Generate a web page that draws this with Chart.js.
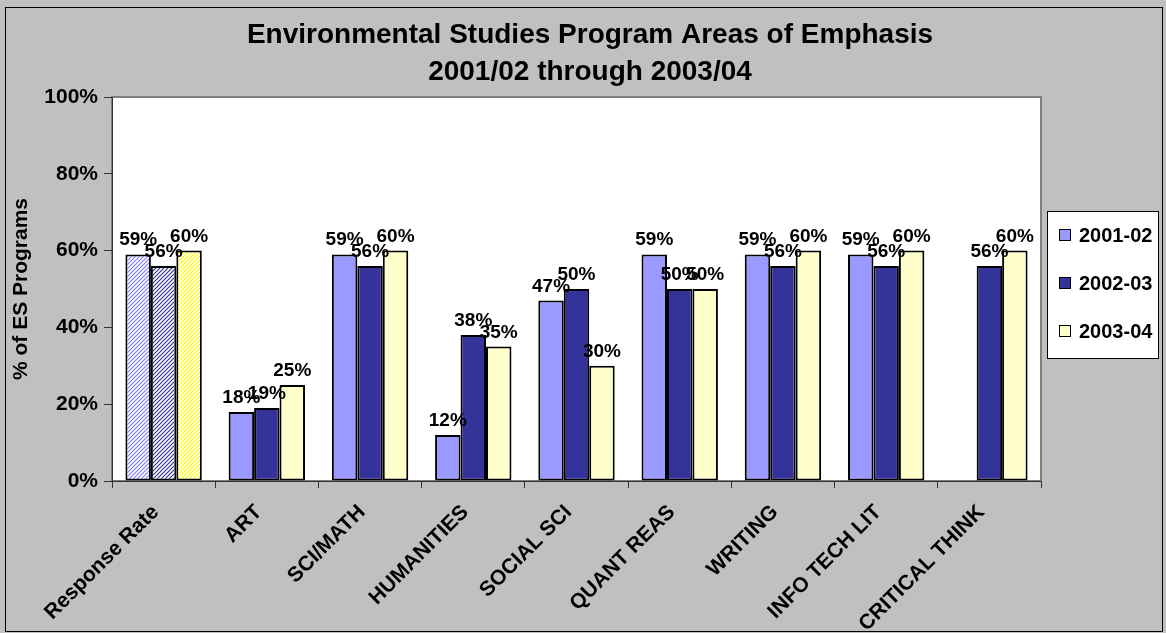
<!DOCTYPE html>
<html>
<head>
<meta charset="utf-8">
<title>Environmental Studies Program Areas of Emphasis</title>
<script src="https://cdn.jsdelivr.net/npm/chart.js@4.4.1/dist/chart.umd.min.js"></script>
<style>
   body { margin: 0; background: #fff; }
   #wrap { width: 1166px; height: 633px; position: relative; }
</style>
</head>
<body>
<div id="wrap"><canvas id="esChart"></canvas></div>
<script>
let areas = [
   "Response Rate",
   "ART",
   "SCI/MATH",
   "HUMANITIES",
   "SOCIAL SCI",
   "QUANT REAS",
   "WRITING",
   "INFO TECH LIT",
   "CRITICAL THINK",
];
let years = ["2001-02", "2002-03", "2003-04"];

let pct0102 = [59, 18, 59, 12, 47, 59, 59, 59, null];
let pct0203 = [56, 19, 56, 38, 50, 50, 56, 56, 56];
let pct0304 = [60, 25, 60, 35, 30, 50, 60, 60, 60];

let yTicks = [0, 20, 40, 60, 80, 100];
let titleLines = ["Environmental Studies Program Areas of Emphasis", "2001/02 through 2003/04"];

const colors = ["#9999FF", "#333399", "#FFFFCC"];
const hatchLines = ["#8080FF", "#333399", "#FFFF00"];
const FONT = "'Liberation Sans', Arial, sans-serif";

// diagonal hatch used for the Response Rate bars
function hatch(fg) {
   const c = document.createElement("canvas");
   c.width = 4;
   c.height = 4;
   const g = c.getContext("2d");
   g.fillStyle = "#ffffff";
   g.fillRect(0, 0, 4, 4);
   g.strokeStyle = fg;
   g.lineWidth = 1.2;
   g.beginPath();
   g.moveTo(-1, 5); g.lineTo(5, -1);
   g.moveTo(-1, 1); g.lineTo(1, -1);
   g.moveTo(3, 5); g.lineTo(5, 3);
   g.stroke();
   return g.createPattern(c, "repeat");
}

function barFills(i) {
   const p = hatch(hatchLines[i]);
   return areas.map((a, k) => (k === 0 ? p : colors[i]));
}

const framePlugin = {
   id: "frame",
   beforeDraw(chart) {
      const {ctx, width, height, chartArea: a} = chart;
      ctx.save();
      ctx.fillStyle = "#C0C0C0";
      ctx.fillRect(0, 0, width, height);
      ctx.fillStyle = "#ffffff";
      ctx.fillRect(a.left, a.top, a.right - a.left, a.bottom - a.top);
      ctx.strokeStyle = "#808080";
      ctx.lineWidth = 2;
      ctx.strokeRect(a.left, a.top, a.right - a.left, a.bottom - a.top);
      ctx.restore();
   },
   afterDatasetsDraw(chart) {
      const ctx = chart.ctx;
      ctx.save();
      ctx.font = "bold 19px " + FONT;
      ctx.fillStyle = "#000";
      ctx.textAlign = "center";
      ctx.textBaseline = "alphabetic";
      chart.data.datasets.forEach((ds, i) => {
         chart.getDatasetMeta(i).data.forEach((bar, k) => {
            const v = ds.data[k];
            if (v === null) return;
            ctx.fillText(Math.round(v) + "%", bar.x, bar.y - 9);
         });
      });
      ctx.restore();
   },
   afterDraw(chart) {
      const {ctx, width, height} = chart;
      ctx.save();
      // title
      ctx.fillStyle = "#000";
      ctx.font = "bold 28px " + FONT;
      ctx.textAlign = "center";
      ctx.textBaseline = "middle";
      ctx.fillText(titleLines[0], 590, 35);
      ctx.fillText(titleLines[1], 590, 72);

      // legend
      ctx.fillStyle = "#fff";
      ctx.fillRect(1047.5, 211.5, 111, 147);
      ctx.strokeStyle = "#000";
      ctx.lineWidth = 1;
      ctx.strokeRect(1047.5, 211.5, 111, 147);
      ctx.font = "bold 20px " + FONT;
      ctx.textAlign = "left";
      years.forEach((y, i) => {
         const cy = 235 + i * 48;
         ctx.fillStyle = colors[i];
         ctx.fillRect(1059.5, cy - 5.5, 11, 11);
         ctx.strokeRect(1059.5, cy - 5.5, 11, 11);
         ctx.fillStyle = "#000";
         ctx.fillText(y, 1079, cy + 1);
      });

      // outer frame
      ctx.strokeRect(5.5, 7.5, width - 9, height - 9);
      ctx.restore();
   },
};

const ctx = document.getElementById("esChart").getContext("2d");
const esChart = new Chart(ctx, {
   type: "bar",
   data: {
      labels: areas,
      datasets: [
         {label: years[0], data: pct0102, backgroundColor: barFills(0)},
         {label: years[1], data: pct0203, backgroundColor: barFills(1)},
         {label: years[2], data: pct0304, backgroundColor: barFills(2)},
      ],
   },
   options: {
      responsive: true,
      maintainAspectRatio: false,
      animation: false,
      datasets: {
         bar: {
            categoryPercentage: 0.74,
            barPercentage: 1,
            borderColor: "#000",
            borderWidth: 2,
            borderSkipped: false,
         },
      },
      layout: {padding: {left: 6, right: 125, top: 97, bottom: 0}},
      scales: {
         x: {
            grid: {drawOnChartArea: false, tickLength: 7, color: "#333", offset: true},
            border: {color: "#333"},
            ticks: {
               color: "#000",
               font: {family: FONT, size: 21, weight: "bold"},
               minRotation: 45,
               maxRotation: 45,
               padding: 12,
               labelOffset: -8,
               autoSkip: false,
            },
            afterFit(scale) {
               scale.height = 152;
            },
         },
         y: {
            min: 0,
            max: 100,
            afterBuildTicks(scale) {
               scale.ticks = yTicks.map((v) => ({value: v}));
            },
            grid: {drawOnChartArea: false, tickLength: 8, color: "#333"},
            border: {color: "#333"},
            ticks: {
               color: "#000",
               font: {family: FONT, size: 21, weight: "bold"},
               padding: 6,
               callback: (v) => v + "%",
            },
            title: {
               display: true,
               text: "% of ES Programs",
               color: "#000",
               font: {family: FONT, size: 21, weight: "bold"},
               padding: {top: 3, bottom: 0},
            },
            afterFit(scale) {
               scale.width = 106;
            },
         },
      },
      plugins: {
         legend: {display: false},
         title: {display: false},
         tooltip: {enabled: false},
      },
   },
   plugins: [framePlugin],
});
</script>
</body>
</html>
